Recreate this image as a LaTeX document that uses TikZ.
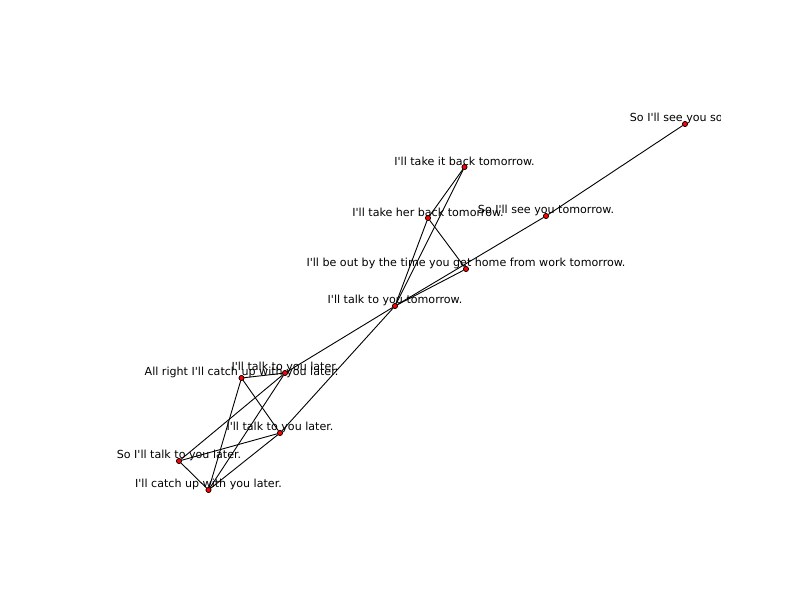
\documentclass[tikz,border=0pt]{standalone}
\usepackage{fontspec}
\setmainfont{DejaVu Sans}[Ligatures=TeXOff]
\usetikzlibrary{calc}

\begin{document}
\begin{tikzpicture}[x=1pt,y=-1pt,
  vertex/.style={draw,fill=red,circle,inner sep=0pt,minimum size=5pt,line width=0.6pt},
  lbl/.style={inner sep=0pt,font=\fontsize{11.1}{13}\selectfont},
  edge/.style={line width=0.9pt}]
  \useasboundingbox (0,0) rectangle (800,600);
  \begin{scope}
    \clip (100,72) rectangle (720,534);
    \node[vertex] (seesoon) at (685,124) {};
    \node[vertex] (takeit) at (464.5,167) {};
    \node[vertex] (takeher) at (428,218) {};
    \node[vertex] (seetmrw) at (546,216) {};
    \node[vertex] (outby) at (466,269) {};
    \node[vertex] (talktmrw) at (395,306) {};
    \node[vertex] (allright) at (241.5,378) {};
    \node[vertex] (talkA) at (285,373) {};
    \node[vertex] (talkB) at (280,433) {};
    \node[vertex] (sotalk) at (179,461) {};
    \node[vertex] (catchup) at (208.5,490) {};
    % edges
    \draw[edge] (seesoon)--(seetmrw);
    \draw[edge] (seetmrw)--(talktmrw);
    \draw[edge] (takeit)--(takeher);
    \draw[edge] (takeit)--(talktmrw);
    \draw[edge] (takeher)--(talktmrw);
    \draw[edge] (takeher)--(outby);
    \draw[edge] (outby)--(talktmrw);
    \draw[edge] (talktmrw)--(talkA);
    \draw[edge] (talktmrw)--(talkB);
    \draw[edge] (allright)--(talkA);
    \draw[edge] (allright)--(talkB);
    \draw[edge] (allright)--(catchup);
    \draw[edge] (talkA)--(sotalk);
    \draw[edge] (talkA)--(catchup);
    \draw[edge] (talkB)--(sotalk);
    \draw[edge] (talkB)--(catchup);
    \draw[edge] (sotalk)--(catchup);
    % redraw vertices on top
    \foreach \v in {seesoon,takeit,takeher,seetmrw,outby,talktmrw,allright,talkA,talkB,sotalk,catchup}
      \node[vertex] at (\v) {};
    % labels
    \node[lbl] (seesoon-l) at ([yshift=6pt]seesoon) {So I'll see you soon.};
    \node[lbl] (takeit-l) at ([yshift=6pt]takeit) {I'll take it back tomorrow.};
    \node[lbl] (takeher-l) at ([yshift=6pt]takeher) {I'll take her back tomorrow.};
    \node[lbl] (seetmrw-l) at ([yshift=6pt]seetmrw) {So I'll see you tomorrow.};
    \node[lbl] (outby-l) at ([yshift=6pt]outby) {I'll be out by the time you get home from work tomorrow.};
    \node[lbl] (talktmrw-l) at ([yshift=6pt]talktmrw) {I'll talk to you tomorrow.};
    \node[lbl] (allright-l) at ([yshift=6pt]allright) {All right I'll catch up with you later.};
    \node[lbl] (talkA-l) at ([yshift=6pt]talkA) {I'll talk to you later.};
    \node[lbl] (talkB-l) at ([yshift=6pt]talkB) {I'll talk to you later.};
    \node[lbl] (sotalk-l) at ([yshift=6pt]sotalk) {So I'll talk to you later.};
    \node[lbl] (catchup-l) at ([yshift=6pt]catchup) {I'll catch up with you later.};
  \end{scope}
\end{tikzpicture}
\end{document}
